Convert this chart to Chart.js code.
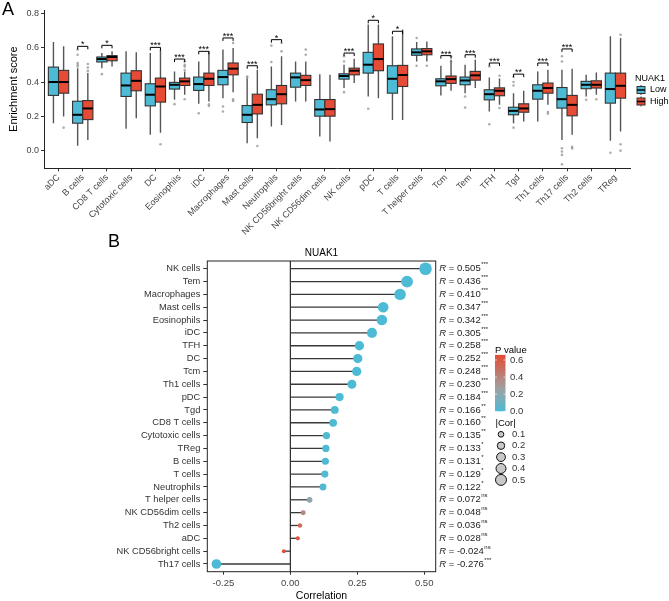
<!DOCTYPE html>
<html>
<head>
<meta charset="utf-8">
<script src="https://cdn.jsdelivr.net/npm/chart.js@4.4.1/dist/chart.umd.min.js"></script>
<style>
  body { margin: 0; background: #fff; }
  #marco { position: relative; width: 669px; height: 601px; }
  canvas { position: absolute; left: 0; }
  #grafico-a { top: 0; }
  #grafico-b { top: 228px; }
</style>
</head>
<body>
<div id="marco">
  <canvas id="grafico-a" width="669" height="240" style="width:669px;height:240px"></canvas>
  <canvas id="grafico-b" width="669" height="373" style="width:669px;height:373px"></canvas>
</div>
<script>
// Datos del panel A: puntuación de enriquecimiento por tipo celular (NUAK1 Low / High)
const celulas = ['aDC', 'B cells', 'CD8 T cells', 'Cytotoxic cells', 'DC', 'Eosinophils', 'iDC', 'Macrophages',
  'Mast cells', 'Neutrophils', 'NK CD56bright cells', 'NK CD56dim cells', 'NK cells', 'pDC', 'T cells',
  'T helper cells', 'Tcm', 'Tem', 'TFH', 'Tgd', 'Th1 cells', 'Th17 cells', 'Th2 cells', 'TReg'];
// Cada caja: [bigote inferior, Q1, mediana, Q3, bigote superior]
const cajasLow = [
  [0.160, 0.322, 0.400, 0.487, 0.634], [0.029, 0.160, 0.209, 0.288, 0.481], [0.481, 0.517, 0.534, 0.546, 0.569],
  [0.127, 0.316, 0.380, 0.452, 0.579], [0.092, 0.261, 0.326, 0.390, 0.569], [0.296, 0.359, 0.384, 0.398, 0.462],
  [0.273, 0.351, 0.388, 0.429, 0.520], [0.306, 0.384, 0.429, 0.468, 0.589], [0.043, 0.164, 0.209, 0.263, 0.420],
  [0.140, 0.267, 0.300, 0.355, 0.491], [0.287, 0.370, 0.427, 0.452, 0.520], [0.082, 0.201, 0.240, 0.298, 0.446],
  [0.365, 0.417, 0.435, 0.448, 0.501], [0.316, 0.452, 0.501, 0.573, 0.735], [0.179, 0.335, 0.419, 0.495, 0.667],
  [0.520, 0.556, 0.573, 0.593, 0.634], [0.322, 0.378, 0.404, 0.419, 0.495], [0.335, 0.384, 0.409, 0.429, 0.501],
  [0.228, 0.296, 0.329, 0.355, 0.427], [0.160, 0.209, 0.232, 0.253, 0.335], [0.170, 0.300, 0.349, 0.384, 0.462],
  [0.062, 0.248, 0.300, 0.368, 0.472], [0.316, 0.361, 0.384, 0.404, 0.442], [0.057, 0.277, 0.359, 0.452, 0.667]
];
const cajasHigh = [
  [0.199, 0.335, 0.400, 0.468, 0.608], [0.062, 0.181, 0.246, 0.292, 0.452], [0.491, 0.524, 0.546, 0.554, 0.579],
  [0.189, 0.349, 0.407, 0.466, 0.573], [0.105, 0.283, 0.374, 0.423, 0.589], [0.326, 0.380, 0.404, 0.423, 0.462],
  [0.287, 0.380, 0.419, 0.452, 0.579], [0.341, 0.442, 0.478, 0.511, 0.598], [0.072, 0.214, 0.267, 0.329, 0.472],
  [0.150, 0.273, 0.329, 0.380, 0.550], [0.287, 0.380, 0.411, 0.439, 0.520], [0.053, 0.201, 0.242, 0.298, 0.442],
  [0.394, 0.442, 0.466, 0.481, 0.536], [0.306, 0.466, 0.534, 0.622, 0.735], [0.179, 0.374, 0.441, 0.497, 0.706],
  [0.520, 0.559, 0.579, 0.595, 0.637], [0.349, 0.392, 0.417, 0.435, 0.530], [0.365, 0.411, 0.439, 0.462, 0.530],
  [0.267, 0.320, 0.349, 0.366, 0.420], [0.170, 0.224, 0.246, 0.273, 0.349], [0.267, 0.335, 0.365, 0.394, 0.472],
  [0.092, 0.203, 0.267, 0.322, 0.478], [0.326, 0.365, 0.384, 0.407, 0.456], [0.111, 0.306, 0.378, 0.452, 0.657]
];
// Valores atípicos de cada grupo
const atipicosLow = [[], [0.589, 0.559, 0.511, 0.501, 0.491], [0.446], [], [], [0.271], [0.218], [0.257, 0.228],
  [0.432, 0.425], [0.612, 0.517], [], [], [0.550, 0.520, 0.341], [0.244], [], [0.657, 0.495], [], [0.316, 0.251],
  [0.491, 0.154], [0.430, 0.400, 0.380, 0.134], [], [0.550, 0.520, 0.014, -0.005, -0.025, -0.080], [0.296], [-0.012]];
const atipicosHigh = [[0.134], [0.505, 0.485, 0.465], [], [], [0.037], [0.520, 0.500, 0.490, 0.470, 0.300],
  [0.270, 0.260], [0.628, 0.300, 0.290], [0.027], [0.628, 0.579], [0.589, 0.559], [], [], [], [], [0.495],
  [0.550, 0.520], [], [0.437, 0.248], [], [0.225, 0.215], [0.023, 0.013], [0.300], [0.676, 0.037, 0.000]];
// Significación de la comparación Low vs High y altura del corchete
const signos = ['', '*', '*', '', '***', '***', '***', '***', '***', '*', '', '', '***', '*', '*', '', '***', '***',
  '***', '**', '***', '***', '', ''];
const alturaSigno = [0, 0.608, 0.614, 0, 0.602, 0.534, 0.579, 0.657, 0.495, 0.647, 0, 0, 0.569, 0.760, 0.696, 0,
  0.554, 0.559, 0.511, 0.446, 0.511, 0.593, 0, 0];
const ticksEnriquecimiento = [0, 0.2, 0.4, 0.6, 0.8];

// Datos del panel B: correlación con NUAK1
const celulasCor = ['NK cells', 'Tem', 'Macrophages', 'Mast cells', 'Eosinophils', 'iDC', 'TFH', 'DC', 'Tcm',
  'Th1 cells', 'pDC', 'Tgd', 'CD8 T cells', 'Cytotoxic cells', 'TReg', 'B cells', 'T cells', 'Neutrophils',
  'T helper cells', 'NK CD56dim cells', 'Th2 cells', 'aDC', 'NK CD56bright cells', 'Th17 cells'];
const correlaciones = [0.505, 0.436, 0.410, 0.347, 0.342, 0.305, 0.258, 0.252, 0.248, 0.230, 0.184, 0.166, 0.160,
  0.135, 0.133, 0.131, 0.129, 0.122, 0.072, 0.048, 0.036, 0.028, -0.024, -0.276];
const estrellasCor = ['***', '***', '***', '***', '***', '***', '***', '***', '***', '***', '***', '**', '**', '**',
  '*', '*', '*', '*', 'ns', 'ns', 'ns', 'ns', 'ns', '***'];
const valoresP = [0, 0, 0, 0, 0, 0, 0, 0, 0, 0, 0.001, 0.003, 0.004, 0.009, 0.012, 0.013, 0.015, 0.024,
  0.21, 0.39, 0.52, 0.62, 0.67, 0];
const ticksCorrelacion = [-0.25, 0, 0.25, 0.5];
const ticksP = [0, 0.2, 0.4, 0.6];
const ticksCor = [0.1, 0.2, 0.3, 0.4, 0.5];

// Estilos generales
const FUENTE = "'Liberation Sans', Arial, Helvetica, sans-serif";
const AZUL = '#4DBBD5';
const ROJO = '#E64B35';
const DESP = 0.21;      // separación de cada caja respecto al centro de la categoría
const ANCHO = 0.42;     // ancho de caja en unidades de categoría
Chart.defaults.font.family = FUENTE;
Chart.defaults.color = '#3d3d3d';

// Color según el p valor (azul -> gris -> rojo)
function colorPorP(p) {
  const azul = [77, 187, 213], gris = [160, 160, 160], rojo = [230, 75, 53];
  const medio = 0.27, tope = 0.66;
  let a, b, t;
  if (p <= medio) { a = azul; b = gris; t = p / medio; }
  else { a = gris; b = rojo; t = Math.min((p - medio) / (tope - medio), 1); }
  const c = a.map((v, k) => Math.round(v + (b[k] - v) * t));
  return 'rgb(' + c.join(',') + ')';
}

// Radio del punto según |Cor|
function radioPorCor(v) {
  return 0.8 + 7.7 * Math.sqrt(Math.abs(v));
}

// Dibuja una caja con bigotes y mediana
function dibujarCaja(ctx, xs, ys, centro, s, color) {
  const x0 = xs.getPixelForValue(centro - ANCHO / 2);
  const x1 = xs.getPixelForValue(centro + ANCHO / 2);
  const xc = xs.getPixelForValue(centro);
  const yq1 = ys.getPixelForValue(s[1]);
  const yq3 = ys.getPixelForValue(s[3]);
  const ymed = ys.getPixelForValue(s[2]);
  ctx.strokeStyle = '#555';
  ctx.lineWidth = 1.4;
  ctx.beginPath();
  ctx.moveTo(xc, ys.getPixelForValue(s[4]));
  ctx.lineTo(xc, yq3);
  ctx.moveTo(xc, yq1);
  ctx.lineTo(xc, ys.getPixelForValue(s[0]));
  ctx.stroke();
  ctx.fillStyle = color;
  ctx.fillRect(x0, yq3, x1 - x0, yq1 - yq3);
  ctx.strokeStyle = '#333';
  ctx.lineWidth = 1.1;
  ctx.strokeRect(x0, yq3, x1 - x0, yq1 - yq3);
  ctx.strokeStyle = '#000';
  ctx.lineWidth = 2;
  ctx.beginPath();
  ctx.moveTo(x0, ymed);
  ctx.lineTo(x1, ymed);
  ctx.stroke();
}

// Plugin del panel A: cajas, corchetes de significación y leyenda
const pluginCajas = {
  id: 'cajas',
  beforeDatasetsDraw(chart) {
    const { ctx, scales: { x, y } } = chart;
    ctx.save();
    celulas.forEach((c, i) => {
      dibujarCaja(ctx, x, y, i - DESP, cajasLow[i], AZUL);
      dibujarCaja(ctx, x, y, i + DESP, cajasHigh[i], ROJO);
    });
    ctx.restore();
  },
  afterDatasetsDraw(chart) {
    const { ctx, scales: { x, y } } = chart;
    ctx.save();
    ctx.strokeStyle = '#000';
    ctx.lineWidth = 1;
    ctx.fillStyle = '#000';
    ctx.font = '9px ' + FUENTE;
    ctx.textAlign = 'center';
    ctx.textBaseline = 'alphabetic';
    signos.forEach((s, i) => {
      if (!s) return;
      const yy = y.getPixelForValue(alturaSigno[i]);
      const xa = x.getPixelForValue(i - DESP);
      const xb = x.getPixelForValue(i + DESP);
      ctx.beginPath();
      ctx.moveTo(xa, yy + 3);
      ctx.lineTo(xa, yy);
      ctx.lineTo(xb, yy);
      ctx.lineTo(xb, yy + 3);
      ctx.stroke();
      ctx.fillText(s, x.getPixelForValue(i), yy + 1);
    });
    ctx.restore();
  },
  afterDraw(chart) {
    const { ctx } = chart;
    ctx.save();
    ctx.fillStyle = '#000';
    ctx.font = '18px ' + FUENTE;
    ctx.textBaseline = 'alphabetic';
    ctx.fillText('A', 2, 15);
    // Leyenda NUAK1
    ctx.font = '9px ' + FUENTE;
    ctx.textBaseline = 'middle';
    ctx.fillText('NUAK1', 635, 78.5);
    [['Low', AZUL, 90], ['High', ROJO, 101.5]].forEach(([txt, col, yy]) => {
      ctx.strokeStyle = '#333';
      ctx.lineWidth = 1;
      ctx.beginPath();
      ctx.moveTo(641, yy - 5);
      ctx.lineTo(641, yy + 5);
      ctx.stroke();
      ctx.fillStyle = col;
      ctx.fillRect(637, yy - 3.5, 8, 7);
      ctx.strokeRect(637, yy - 3.5, 8, 7);
      ctx.strokeStyle = '#000';
      ctx.lineWidth = 1.5;
      ctx.beginPath();
      ctx.moveTo(637, yy);
      ctx.lineTo(645, yy);
      ctx.stroke();
      ctx.fillStyle = '#000';
      ctx.fillText(txt, 650, yy);
    });
    ctx.restore();
  }
};

const graficoA = new Chart(document.getElementById('grafico-a').getContext('2d'), {
  type: 'scatter',
  data: {
    datasets: [
      {
        label: 'Low',
        data: atipicosLow.flatMap((lista, i) => lista.map(v => ({ x: i - DESP, y: v }))),
        pointRadius: 1.3,
        pointBackgroundColor: 'rgba(120,120,120,0.6)',
        pointBorderWidth: 0
      },
      {
        label: 'High',
        data: atipicosHigh.flatMap((lista, i) => lista.map(v => ({ x: i + DESP, y: v }))),
        pointRadius: 1.3,
        pointBackgroundColor: 'rgba(120,120,120,0.6)',
        pointBorderWidth: 0
      }
    ]
  },
  options: {
    responsive: false,
    animation: false,
    devicePixelRatio: 1,
    events: [],
    layout: { padding: { top: 10, right: 39, left: 0, bottom: 0 } },
    plugins: { legend: { display: false }, tooltip: { enabled: false } },
    scales: {
      x: {
        type: 'linear',
        min: -0.6,
        max: 23.6,
        afterBuildTicks: s => { s.ticks = celulas.map((c, i) => ({ value: i })); },
        afterFit: s => { s.height = 71.7; },
        ticks: {
          autoSkip: false,
          maxRotation: 45,
          minRotation: 45,
          padding: 1,
          font: { size: 9 },
          color: '#444',
          callback: v => celulas[v]
        },
        grid: { display: true, drawOnChartArea: false, drawTicks: true, tickLength: 3, color: '#333' },
        border: { display: true, color: '#222', width: 1 }
      },
      y: {
        min: -0.103,
        max: 0.82,
        afterBuildTicks: s => { s.ticks = ticksEnriquecimiento.map(v => ({ value: v })); },
        afterFit: s => { s.width = 44; },
        ticks: { font: { size: 9 }, color: '#444', padding: 2, callback: v => v.toFixed(1) },
        title: { display: true, text: 'Enrichment score', font: { size: 11 }, color: '#000', padding: { top: 7, bottom: 0 } },
        grid: { display: true, drawOnChartArea: false, drawTicks: true, tickLength: 3, color: '#333' },
        border: { display: true, color: '#222', width: 1 }
      }
    }
  },
  plugins: [pluginCajas]
});

// Plugin del panel B: segmentos, marco, etiquetas R y leyendas
const OFFSET_B = 228;
const pluginLollipop = {
  id: 'lollipop',
  beforeDatasetsDraw(chart) {
    const { ctx, chartArea: a, scales: { x, y } } = chart;
    ctx.save();
    const x0 = x.getPixelForValue(0);
    ctx.strokeStyle = '#000';
    ctx.lineWidth = 1;
    ctx.beginPath();
    ctx.moveTo(x0, a.top);
    ctx.lineTo(x0, a.bottom);
    ctx.stroke();
    ctx.strokeStyle = '#383838';
    ctx.lineWidth = 1.3;
    correlaciones.forEach((v, i) => {
      const yy = y.getPixelForValue(i);
      ctx.beginPath();
      ctx.moveTo(x0, yy);
      ctx.lineTo(x.getPixelForValue(v), yy);
      ctx.stroke();
    });
    ctx.restore();
  },
  afterDraw(chart) {
    const { ctx, chartArea: a, scales: { y } } = chart;
    ctx.save();
    // marco del panel
    ctx.strokeStyle = '#222';
    ctx.lineWidth = 1;
    ctx.strokeRect(a.left, a.top, a.right - a.left, a.bottom - a.top);
    // etiqueta B y título
    ctx.fillStyle = '#000';
    ctx.font = '18px ' + FUENTE;
    ctx.textBaseline = 'alphabetic';
    ctx.textAlign = 'left';
    ctx.fillText('B', 108, 247 - OFFSET_B);
    ctx.font = '10px ' + FUENTE;
    ctx.textAlign = 'center';
    ctx.textBaseline = 'middle';
    ctx.fillText('NUAK1', (a.left + a.right) / 2, 253.5 - OFFSET_B);
    // textos R = valor con estrellas
    ctx.textAlign = 'left';
    ctx.fillStyle = '#222';
    correlaciones.forEach((v, i) => {
      const yy = y.getPixelForValue(i);
      let xx = a.right + 3.5;
      ctx.font = 'italic 9.5px ' + FUENTE;
      ctx.fillText('R', xx, yy);
      xx += ctx.measureText('R').width;
      ctx.font = '9.5px ' + FUENTE;
      const txt = ' = ' + v.toFixed(3);
      ctx.fillText(txt, xx, yy);
      xx += ctx.measureText(txt).width + 0.5;
      ctx.font = '6px ' + FUENTE;
      ctx.fillText(estrellasCor[i], xx, yy - 4);
    });
    // leyenda P value
    const ypx = p => 411.3 - OFFSET_B - p * 85.5;
    ctx.fillStyle = '#000';
    ctx.font = '9.5px ' + FUENTE;
    ctx.fillText('P value', 495, 350.5 - OFFSET_B);
    const grad = ctx.createLinearGradient(0, ypx(0), 0, ypx(0.66));
    for (let k = 0; k <= 10; k++) {
      grad.addColorStop(k / 10, colorPorP(0.66 * k / 10));
    }
    ctx.fillStyle = grad;
    ctx.fillRect(495, ypx(0.66), 10.5, ypx(0) - ypx(0.66));
    ctx.strokeStyle = 'rgba(255,255,255,0.8)';
    ctx.lineWidth = 0.8;
    ticksP.forEach(p => {
      ctx.beginPath();
      ctx.moveTo(495, ypx(p)); ctx.lineTo(497, ypx(p));
      ctx.moveTo(503.5, ypx(p)); ctx.lineTo(505.5, ypx(p));
      ctx.stroke();
      ctx.fillStyle = '#333';
      ctx.fillText(p.toFixed(1), 510, ypx(p));
    });
    // leyenda |Cor|
    ctx.fillStyle = '#000';
    ctx.fillText('|Cor|', 495.5, 423 - OFFSET_B);
    ticksCor.forEach((c, k) => {
      const yy = 434.3 - OFFSET_B + k * 11.4;
      ctx.beginPath();
      ctx.arc(501, yy, radioPorCor(c) * 0.88, 0, Math.PI * 2);
      ctx.fillStyle = '#C8C8C8';
      ctx.fill();
      ctx.strokeStyle = '#111';
      ctx.lineWidth = 1;
      ctx.stroke();
      ctx.fillStyle = '#333';
      ctx.fillText(c.toFixed(1), 512, yy);
    });
    ctx.restore();
  }
};

const graficoB = new Chart(document.getElementById('grafico-b').getContext('2d'), {
  type: 'scatter',
  data: {
    datasets: [
      {
        label: 'Correlation',
        data: correlaciones.map((v, i) => ({ x: v, y: i })),
        pointRadius: ctx => radioPorCor(correlaciones[ctx.dataIndex]),
        pointBackgroundColor: ctx => colorPorP(valoresP[ctx.dataIndex]),
        pointBorderWidth: 0,
        clip: false
      }
    ]
  },
  options: {
    responsive: false,
    animation: false,
    devicePixelRatio: 1,
    events: [],
    layout: { padding: { top: 33, right: 233.3, left: 0, bottom: 0 } },
    plugins: { legend: { display: false }, tooltip: { enabled: false } },
    scales: {
      x: {
        type: 'linear',
        min: -0.31,
        max: 0.543,
        afterBuildTicks: s => { s.ticks = ticksCorrelacion.map(v => ({ value: v })); },
        afterFit: s => { s.height = 29.3; },
        ticks: { font: { size: 9.5 }, color: '#444', padding: 3, callback: v => v.toFixed(2) },
        title: { display: true, text: 'Correlation', font: { size: 10.5 }, color: '#000', padding: { top: 0, bottom: -1 } },
        grid: { display: true, drawOnChartArea: false, drawTicks: true, tickLength: 3, color: '#333' },
        border: { display: false }
      },
      y: {
        type: 'linear',
        reverse: true,
        min: -0.6,
        max: 23.6,
        afterBuildTicks: s => { s.ticks = celulasCor.map((c, i) => ({ value: i })); },
        afterFit: s => { s.width = 207.3; },
        ticks: { autoSkip: false, font: { size: 9.3 }, color: '#333', padding: 3, callback: v => celulasCor[v] },
        grid: { display: true, drawOnChartArea: false, drawTicks: true, tickLength: 4, color: '#333' },
        border: { display: false }
      }
    }
  },
  plugins: [pluginLollipop]
});
</script>
</body>
</html>
